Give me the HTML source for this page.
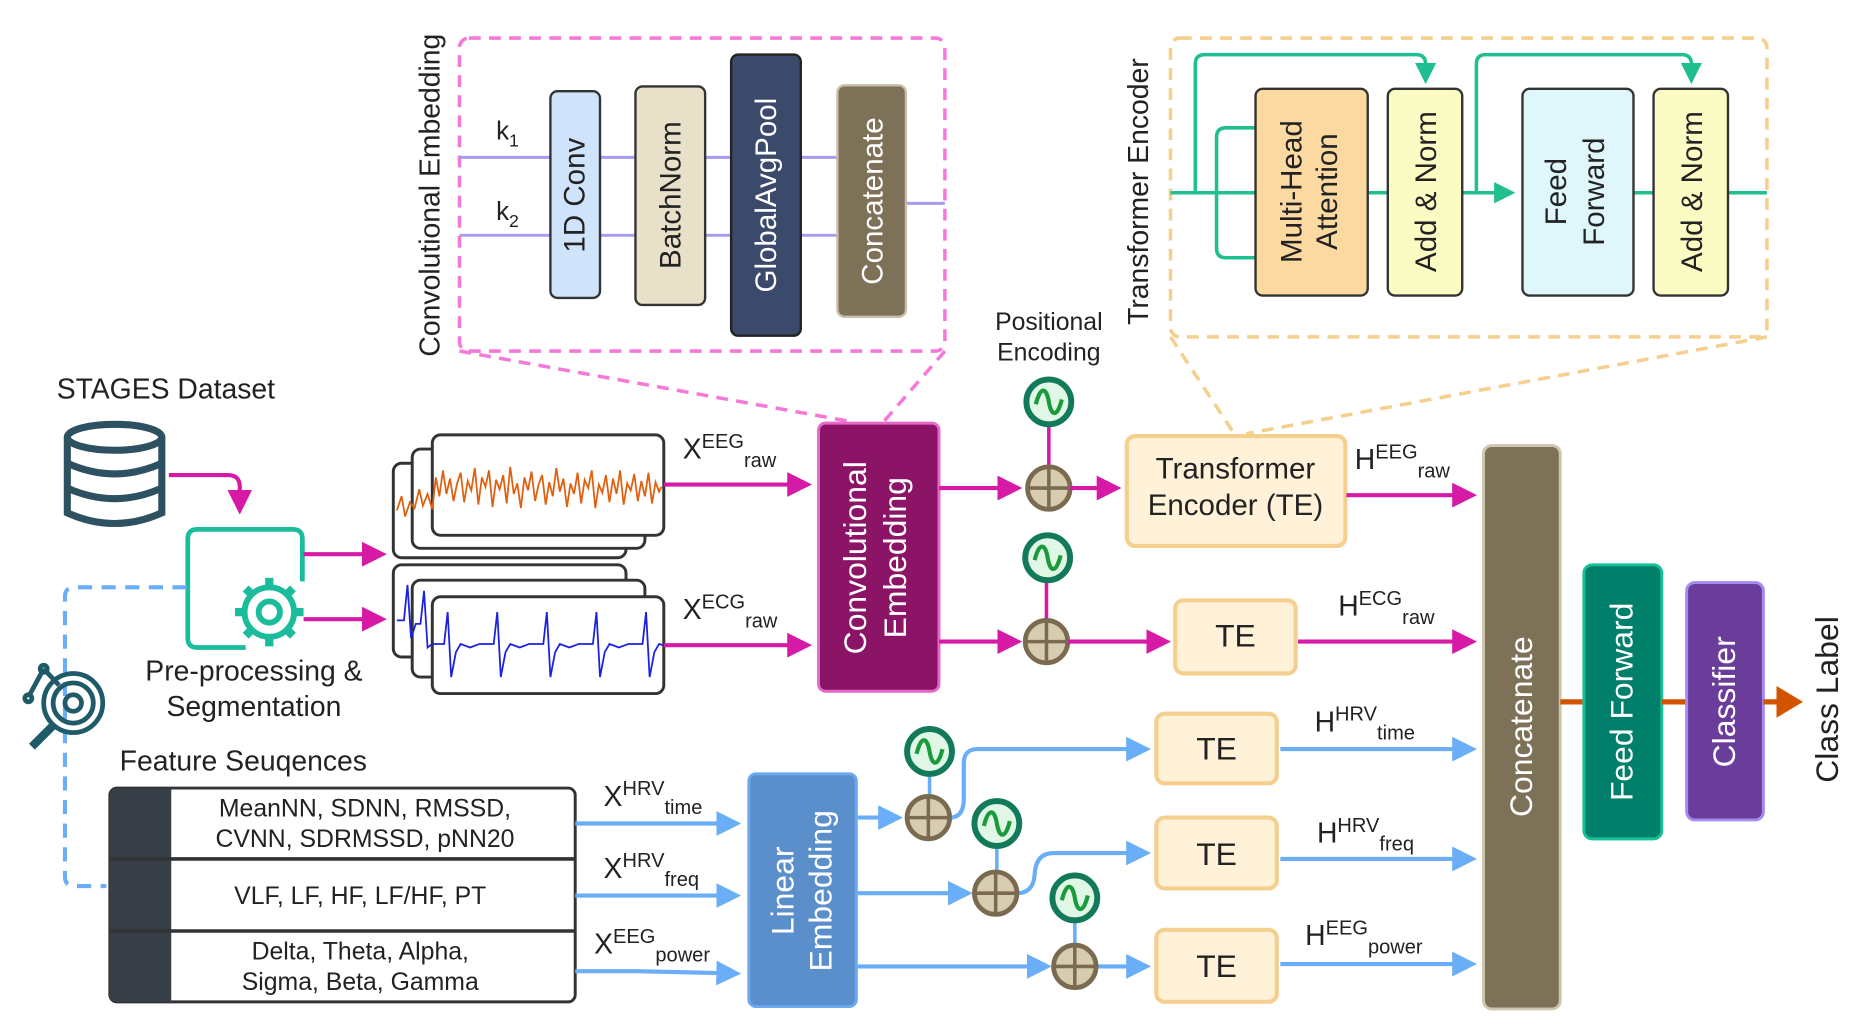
<!DOCTYPE html>
<html><head><meta charset="utf-8"><style>
html,body{margin:0;padding:0;background:#fff;}
svg{display:block;}
text{font-family:"Liberation Sans",sans-serif;fill:#222;}
</style></head><body>
<svg width="1852" height="1034" viewBox="0 0 1568 875" xmlns="http://www.w3.org/2000/svg">
<defs>
<marker id="am" markerWidth="6" markerHeight="6" refX="5" refY="3" orient="auto" markerUnits="strokeWidth"><path d="M0,0 L6,3 L0,6z" fill="#d61aa6"/></marker>
<marker id="ab" markerWidth="6" markerHeight="6" refX="5" refY="3" orient="auto" markerUnits="strokeWidth"><path d="M0,0 L6,3 L0,6z" fill="#6aaef7"/></marker>
<marker id="ag" markerWidth="6" markerHeight="6" refX="5" refY="3" orient="auto" markerUnits="strokeWidth"><path d="M0,0 L6,3 L0,6z" fill="#1fbf8f"/></marker>
<marker id="ao" markerWidth="5" markerHeight="6" refX="4" refY="3" orient="auto" markerUnits="strokeWidth"><path d="M0,0 L5,3 L0,6z" fill="#d35400"/></marker>
<g id="plus"><circle r="18" fill="#d8ccb0" stroke="#7a6a50" stroke-width="4"/><path d="M-18,0H18M0,-18V18" stroke="#7a6a50" stroke-width="3"/></g>
<g id="pe"><circle r="19" fill="#dff7e4" stroke="#127a5a" stroke-width="5"/><path d="M-11,2 C-7,-14 -2,-12 0,0 S7,14 11,-2" fill="none" stroke="#1a9a3a" stroke-width="3.5"/></g>
</defs>

<!-- Conv Embedding detail -->
<rect x="389" y="32" width="411" height="265" rx="8" fill="none" stroke="#f57ad8" stroke-width="3" stroke-dasharray="10,7"/>
<line x1="389" y1="297" x2="722" y2="357" stroke="#f57ad8" stroke-width="3" stroke-dasharray="10,7"/>
<line x1="800" y1="297" x2="748" y2="357" stroke="#f57ad8" stroke-width="3" stroke-dasharray="10,7"/>
<text transform="translate(372,165) rotate(-90)" font-size="24" text-anchor="middle">Convolutional Embedding</text>
<g stroke="#a79af2" stroke-width="2.5">
<line x1="389" y1="133" x2="709" y2="133"/><line x1="389" y1="199" x2="709" y2="199"/><line x1="767" y1="172" x2="800" y2="172"/>
</g>
<text x="420" y="118" font-size="22">k<tspan font-size="15" dy="6">1</tspan></text>
<text x="420" y="186" font-size="22">k<tspan font-size="15" dy="6">2</tspan></text>
<rect x="466" y="77" width="42" height="175" rx="6" fill="#cfe3fb" stroke="#333" stroke-width="2"/>
<text transform="translate(495,165) rotate(-90)" font-size="25" text-anchor="middle">1D Conv</text>
<rect x="538" y="73" width="59" height="185" rx="6" fill="#e8e0c8" stroke="#333" stroke-width="2"/>
<text transform="translate(576,165) rotate(-90)" font-size="25" text-anchor="middle">BatchNorm</text>
<rect x="619" y="46" width="59" height="238" rx="6" fill="#3b4a6b" stroke="#222" stroke-width="2"/>
<text transform="translate(657,165) rotate(-90)" font-size="25" text-anchor="middle" style="fill:#fff">GlobalAvgPool</text>
<rect x="709" y="72" width="58" height="196" rx="6" fill="#7d7158" stroke="#c8bfa8" stroke-width="2"/>
<text transform="translate(747,170) rotate(-90)" font-size="25" text-anchor="middle" style="fill:#fff">Concatenate</text>

<!-- Transformer Encoder detail -->
<rect x="991" y="32" width="505" height="253" rx="8" fill="none" stroke="#f5cf8e" stroke-width="3" stroke-dasharray="10,7"/>
<line x1="991" y1="285" x2="1045" y2="367" stroke="#f5cf8e" stroke-width="3" stroke-dasharray="10,7"/>
<line x1="1496" y1="285" x2="1055" y2="367" stroke="#f5cf8e" stroke-width="3" stroke-dasharray="10,7"/>
<text transform="translate(972,162) rotate(-90)" font-size="24" text-anchor="middle">Transformer Encoder</text>
<g fill="none" stroke="#1fbf8f" stroke-width="3">
<line x1="991" y1="163" x2="1063" y2="163"/>
<path d="M1012,163 V54 Q1012,46 1020,46 H1199 Q1207,46 1207,54 V68" marker-end="url(#ag)"/>
<path d="M1063,108 H1038 Q1030,108 1030,116 V210 Q1030,218 1038,218 H1063"/>
<line x1="1158" y1="163" x2="1175" y2="163"/>
<line x1="1238" y1="163" x2="1280" y2="163" marker-end="url(#ag)"/>
<path d="M1250,163 V54 Q1250,46 1258,46 H1424 Q1432,46 1432,54 V68" marker-end="url(#ag)"/>
<line x1="1383" y1="163" x2="1400" y2="163"/>
<line x1="1463" y1="163" x2="1496" y2="163"/>
</g>
<rect x="1063" y="75" width="95" height="175" rx="6" fill="#fcd9a0" stroke="#333" stroke-width="2"/>
<text transform="translate(1102,162) rotate(-90)" font-size="25" text-anchor="middle">Multi-Head</text>
<text transform="translate(1132,162) rotate(-90)" font-size="25" text-anchor="middle">Attention</text>
<rect x="1175" y="75" width="63" height="175" rx="6" fill="#fbfbc4" stroke="#333" stroke-width="2"/>
<text transform="translate(1216,162) rotate(-90)" font-size="25" text-anchor="middle">Add &amp; Norm</text>
<rect x="1289" y="75" width="94" height="175" rx="6" fill="#dff6fb" stroke="#333" stroke-width="2"/>
<text transform="translate(1326,162) rotate(-90)" font-size="25" text-anchor="middle">Feed</text>
<text transform="translate(1358,162) rotate(-90)" font-size="25" text-anchor="middle">Forward</text>
<rect x="1400" y="75" width="63" height="175" rx="6" fill="#fbfbc4" stroke="#333" stroke-width="2"/>
<text transform="translate(1441,162) rotate(-90)" font-size="25" text-anchor="middle">Add &amp; Norm</text>

<!-- Dataset -->
<text x="48" y="337" font-size="24">STAGES Dataset</text>
<g fill="none" stroke="#2d5160" stroke-width="6">
<ellipse cx="97" cy="370" rx="40" ry="11"/>
<path d="M57,370 V434 Q97,452 137,434 V370"/>
<path d="M57,392 Q97,410 137,392"/><path d="M57,413 Q97,431 137,413"/>
</g>
<path d="M143,402 H193 Q203,402 203,412 V432" fill="none" stroke="#d61aa6" stroke-width="3.5" marker-end="url(#am)"/>
<!-- preprocessing -->
<path d="M208,548 H167 Q159,548 159,540 V456 Q159,448 167,448 H248 Q256,448 256,456 V492" fill="none" stroke="#1abc9c" stroke-width="4"/>
<g transform="translate(228,518)" fill="none" stroke="#1abc9c" stroke-width="5">
<circle r="21"/><circle r="9"/>
<g stroke-width="7"><path d="M0,-21V-29M0,21V29M-21,0H-29M21,0H29M15,15L20,20M-15,-15L-20,-20M15,-15L20,-20M-15,15L-20,20"/></g>
</g>
<text x="215" y="576" font-size="24" text-anchor="middle">Pre-processing &amp;</text>
<text x="215" y="606" font-size="24" text-anchor="middle">Segmentation</text>
<line x1="257" y1="469" x2="324" y2="469" stroke="#d61aa6" stroke-width="3.5" marker-end="url(#am)"/>
<line x1="257" y1="524" x2="324" y2="524" stroke="#d61aa6" stroke-width="3.5" marker-end="url(#am)"/>
<path d="M158,497 H63 Q55,497 55,505 V742 Q55,750 63,750 H90" fill="none" stroke="#6aaef7" stroke-width="3.5" stroke-dasharray="12,8"/>
<!-- magnifier -->
<g fill="none" stroke="#1f5a68" stroke-width="4">
<circle cx="62" cy="595" r="25"/><circle cx="62" cy="595" r="17"/><circle cx="62" cy="595" r="7"/>
<line x1="45" y1="614" x2="27" y2="632" stroke-width="7"/>
<path d="M37,566 L24,590 M37,566 L50,580"/><circle cx="37" cy="566" r="3"/><circle cx="24" cy="591" r="3"/>
</g>

<!-- waveform cards -->
<g fill="#fff" stroke="#333" stroke-width="2.5">
<rect x="333" y="392" width="197" height="80" rx="7"/>
<rect x="349" y="380" width="197" height="84" rx="7"/>
<rect x="366" y="368" width="196" height="85" rx="7"/>
<rect x="333" y="478" width="197" height="78" rx="7"/>
<rect x="349" y="491" width="197" height="82" rx="7"/>
<rect x="366" y="505" width="196" height="82" rx="7"/>
</g>
<polyline fill="none" stroke="#e06010" stroke-width="1.5" points="336,432 340,420 343,437 347,425 351,430 355,414 358,428 362,418 366,431 369,404 372,420 375,398 378,418 381,405 384,424 387,409 390,400 393,425 396,407 399,415 402,396 405,427 408,404 411,412 414,398 417,429 420,406 423,414 426,402 429,426 432,395 435,418 438,409 441,430 444,404 447,415 450,399 453,424 456,410 459,402 462,427 465,408 468,420 471,396 474,416 477,405 480,429 483,409 486,418 489,400 492,426 495,406 498,413 501,398 504,430 507,410 510,417 513,402 516,425 519,405 522,418 525,398 528,427 531,409 534,415 537,401 540,424 543,407 546,420 549,400 552,426 555,408 558,416 560,412"/>
<polyline fill="none" stroke="#1a22e0" stroke-width="1.5" points="336,525 342,525 345,495 348,540 352,528 356,528 359,500 362,548 366,545 370,545 376,545 379,518 382,573 386,552 390,545 398,548 406,545 418,545 421,518 424,573 428,552 432,545 440,548 448,545 460,545 463,518 466,573 470,552 474,545 482,548 490,545 502,545 505,518 508,573 512,552 516,545 524,548 532,545 544,545 547,518 550,573 554,552 558,545 561,546"/>
<line x1="562" y1="410" x2="684" y2="410" stroke="#d61aa6" stroke-width="3.5" marker-end="url(#am)"/>
<line x1="562" y1="546" x2="684" y2="546" stroke="#d61aa6" stroke-width="3.5" marker-end="url(#am)"/>
<text x="578" y="388" font-size="24">X<tspan font-size="17" dy="-9">EEG</tspan><tspan font-size="17" dy="16">raw</tspan></text>
<text x="578" y="524" font-size="24">X<tspan font-size="17" dy="-9">ECG</tspan><tspan font-size="17" dy="16">raw</tspan></text>

<!-- Conv Embedding block -->
<rect x="693" y="358" width="102" height="227" rx="6" fill="#8b1466" stroke="#e868c8" stroke-width="2.5"/>
<text transform="translate(733,472) rotate(-90)" font-size="27" text-anchor="middle" style="fill:#fff">Convolutional</text>
<text transform="translate(767,472) rotate(-90)" font-size="27" text-anchor="middle" style="fill:#fff">Embedding</text>

<text x="888" y="279" font-size="21" text-anchor="middle">Positional</text>
<text x="888" y="305" font-size="21" text-anchor="middle">Encoding</text>
<line x1="888" y1="359" x2="888" y2="396" stroke="#d61aa6" stroke-width="3"/>
<line x1="886" y1="491" x2="886" y2="526" stroke="#d61aa6" stroke-width="3"/>
<line x1="795" y1="413" x2="862" y2="413" stroke="#d61aa6" stroke-width="3.5" marker-end="url(#am)"/>
<use href="#plus" x="888" y="413"/><use href="#pe" x="888" y="340"/>
<line x1="906" y1="413" x2="946" y2="413" stroke="#d61aa6" stroke-width="3.5" marker-end="url(#am)"/>
<line x1="795" y1="543" x2="862" y2="543" stroke="#d61aa6" stroke-width="3.5" marker-end="url(#am)"/>
<use href="#plus" x="886" y="543"/><use href="#pe" x="887" y="472"/>
<line x1="904" y1="543" x2="988" y2="543" stroke="#d61aa6" stroke-width="3.5" marker-end="url(#am)"/>

<rect x="954" y="369" width="185" height="93" rx="7" fill="#fff2d9" stroke="#f5cf8e" stroke-width="3.5"/>
<text x="1046" y="405" font-size="25" text-anchor="middle">Transformer</text>
<text x="1046" y="436" font-size="25" text-anchor="middle">Encoder (TE)</text>
<line x1="1140" y1="419" x2="1247" y2="419" stroke="#d61aa6" stroke-width="3.5" marker-end="url(#am)"/>
<text x="1147" y="397" font-size="24">H<tspan font-size="17" dy="-9">EEG</tspan><tspan font-size="17" dy="16">raw</tspan></text>
<rect x="995" y="508" width="102" height="62" rx="7" fill="#fff2d9" stroke="#f5cf8e" stroke-width="3.5"/>
<text x="1046" y="547" font-size="27" text-anchor="middle">TE</text>
<line x1="1099" y1="543" x2="1247" y2="543" stroke="#d61aa6" stroke-width="3.5" marker-end="url(#am)"/>
<text x="1133" y="521" font-size="24">H<tspan font-size="17" dy="-9">ECG</tspan><tspan font-size="17" dy="16">raw</tspan></text>

<!-- Feature sequences -->
<text x="206" y="652" font-size="24" text-anchor="middle">Feature Seuqences</text>
<rect x="93" y="667" width="394" height="181" rx="6" fill="#fff" stroke="#333" stroke-width="2.5"/>
<path d="M99,667 H145 V848 H99 Q93,848 93,842 V673 Q93,667 99,667z" fill="#373e47"/>
<line x1="93" y1="727" x2="487" y2="727" stroke="#333" stroke-width="3"/>
<line x1="93" y1="788" x2="487" y2="788" stroke="#333" stroke-width="3"/>
<g font-size="21" text-anchor="middle">
<text x="309" y="691">MeanNN, SDNN, RMSSD,</text>
<text x="309" y="717">CVNN, SDRMSSD, pNN20</text>
<text x="305" y="765">VLF, LF, HF, LF/HF, PT</text>
<text x="305" y="812">Delta, Theta, Alpha,</text>
<text x="305" y="838">Sigma, Beta, Gamma</text>
</g>
<g stroke="#6aaef7" stroke-width="3.5" fill="none">
<line x1="487" y1="697" x2="624" y2="697" marker-end="url(#ab)"/>
<line x1="487" y1="758" x2="624" y2="758" marker-end="url(#ab)"/>
<path d="M487,822 H540 L624,824" marker-end="url(#ab)"/>
</g>
<text x="511" y="682" font-size="24">X<tspan font-size="17" dy="-9">HRV</tspan><tspan font-size="17" dy="16">time</tspan></text>
<text x="511" y="743" font-size="24">X<tspan font-size="17" dy="-9">HRV</tspan><tspan font-size="17" dy="16">freq</tspan></text>
<text x="503" y="807" font-size="24">X<tspan font-size="17" dy="-9">EEG</tspan><tspan font-size="17" dy="16">power</tspan></text>

<rect x="634" y="655" width="91" height="197" rx="6" fill="#5b8fcc" stroke="#6aa8ef" stroke-width="2.5"/>
<text transform="translate(672,754) rotate(-90)" font-size="27" text-anchor="middle" style="fill:#fff">Linear</text>
<text transform="translate(704,754) rotate(-90)" font-size="27" text-anchor="middle" style="fill:#fff">Embedding</text>

<g stroke="#6aaef7" stroke-width="3.5" fill="none">
<line x1="725" y1="692" x2="761" y2="692" marker-end="url(#ab)"/>
<path d="M804,692 Q816,692 816,676 V646 Q816,634 828,634 H971" marker-end="url(#ab)"/>
<line x1="725" y1="756" x2="820" y2="756" marker-end="url(#ab)"/>
<path d="M861,756 Q875,756 876,740 Q877,722 892,722 H971" marker-end="url(#ab)"/>
<line x1="725" y1="818" x2="887" y2="818" marker-end="url(#ab)"/>
<line x1="928" y1="818" x2="971" y2="818" marker-end="url(#ab)"/>
<line x1="1084" y1="634" x2="1247" y2="634" marker-end="url(#ab)"/>
<line x1="1084" y1="727" x2="1247" y2="727" marker-end="url(#ab)"/>
<line x1="1084" y1="816" x2="1247" y2="816" marker-end="url(#ab)"/>
</g>
<line x1="787" y1="655" x2="787" y2="674" stroke="#6aaef7" stroke-width="3"/>
<line x1="844" y1="716" x2="844" y2="738" stroke="#6aaef7" stroke-width="3"/>
<line x1="910" y1="779" x2="910" y2="800" stroke="#6aaef7" stroke-width="3"/>
<use href="#plus" x="786" y="692"/><use href="#pe" x="787" y="636"/>
<use href="#plus" x="843" y="756"/><use href="#pe" x="844" y="697"/>
<use href="#plus" x="910" y="818"/><use href="#pe" x="910" y="760"/>

<g fill="#fff2d9" stroke="#f5cf8e" stroke-width="3.5">
<rect x="979" y="604" width="102" height="59" rx="7"/>
<rect x="979" y="692" width="102" height="60" rx="7"/>
<rect x="979" y="787" width="102" height="61" rx="7"/>
</g>
<text x="1030" y="643" font-size="27" text-anchor="middle">TE</text>
<text x="1030" y="732" font-size="27" text-anchor="middle">TE</text>
<text x="1030" y="827" font-size="27" text-anchor="middle">TE</text>
<text x="1113" y="619" font-size="24">H<tspan font-size="17" dy="-9">HRV</tspan><tspan font-size="17" dy="16">time</tspan></text>
<text x="1115" y="713" font-size="24">H<tspan font-size="17" dy="-9">HRV</tspan><tspan font-size="17" dy="16">freq</tspan></text>
<text x="1105" y="800" font-size="24">H<tspan font-size="17" dy="-9">EEG</tspan><tspan font-size="17" dy="16">power</tspan></text>

<!-- right side -->
<rect x="1256" y="377" width="65" height="477" rx="7" fill="#7d7158" stroke="#cfc6ae" stroke-width="2.5"/>
<text transform="translate(1297,615) rotate(-90)" font-size="27" text-anchor="middle" style="fill:#fff">Concatenate</text>
<line x1="1321" y1="594" x2="1341" y2="594" stroke="#d35400" stroke-width="4.5"/>
<rect x="1341" y="478" width="66" height="232" rx="7" fill="#007f6a" stroke="#16c09b" stroke-width="2.5"/>
<text transform="translate(1382,594) rotate(-90)" font-size="27" text-anchor="middle" style="fill:#fff">Feed Forward</text>
<line x1="1407" y1="594" x2="1428" y2="594" stroke="#d35400" stroke-width="4.5"/>
<rect x="1428" y="493" width="65" height="201" rx="7" fill="#6a3d9a" stroke="#a38cf0" stroke-width="2.5"/>
<text transform="translate(1469,594) rotate(-90)" font-size="27" text-anchor="middle" style="fill:#fff">Classifier</text>
<line x1="1493" y1="594" x2="1522" y2="594" stroke="#d35400" stroke-width="4.5" marker-end="url(#ao)"/>
<text transform="translate(1556,592) rotate(-90)" font-size="27" text-anchor="middle">Class Label</text>
</svg>
</body></html>
